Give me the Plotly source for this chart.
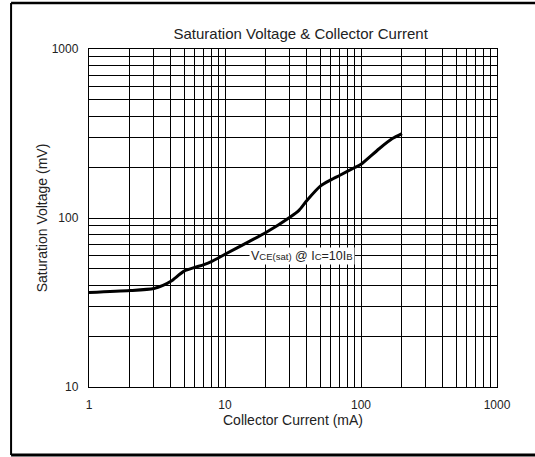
import plotly.graph_objects as go

# Data
current_ma = [1, 2, 3, 3.5, 4, 5, 6, 7, 8, 10, 15, 20, 30, 35, 40, 50, 60, 70, 90, 100, 136, 170, 200]
vce_sat_mv = [36.2, 37.2, 38.3, 39.9, 42.2, 48.5, 51.0, 53.0, 55.4, 61.0, 72.5, 82.0, 101, 111, 127, 154, 168, 179, 199, 208, 257, 295, 316]

x_decades = [1, 10, 100, 1000]
y_decades = [10, 100, 1000]
x_tick_labels = ["1", "10", "100", "1000"]
y_tick_labels = ["10", "100", "1000"]

def grid_vals(decades):
    vals = []
    for d in decades[:-1]:
        for m in range(1, 10):
            vals.append(d * m)
    vals.append(decades[-1])
    return vals

xv = grid_vals(x_decades)
yv = grid_vals(y_decades)
xt = [x_tick_labels[x_decades.index(v)] if v in x_decades else "" for v in xv]
yt = [y_tick_labels[y_decades.index(v)] if v in y_decades else "" for v in yv]

fig = go.Figure()
fig.add_trace(go.Scatter(
    x=current_ma, y=vce_sat_mv, mode="lines",
    line=dict(color="black", width=3, shape="spline", smoothing=0.7),
    showlegend=False, hoverinfo="skip",
))

font = "Liberation Sans, Arial, sans-serif"
axis_common = dict(
    type="log", showgrid=True, gridcolor="black", gridwidth=1,
    showline=True, linecolor="black", linewidth=1.2, mirror=True,
    ticks="", zeroline=False,
    tickfont=dict(family=font, size=12, color="#222"),
)

fig.update_layout(
    width=535, height=457,
    margin=dict(l=89, r=38, t=49, b=70),
    paper_bgcolor="white", plot_bgcolor="white",
    title=dict(text="Saturation Voltage & Collector Current",
               x=0.562, xanchor="center", y=1 - 34 / 457, yanchor="middle",
               font=dict(family=font, size=15, color="#222")),
    xaxis=dict(axis_common, range=[0, 3], tickvals=xv, ticktext=xt,
               ticklabelstandoff=6,
               title=dict(text="Collector Current (mA)", standoff=3,
                          font=dict(family=font, size=14, color="#222"))),
    yaxis=dict(axis_common, range=[1, 3], tickvals=yv, ticktext=yt,
               ticklabelstandoff=7,
               title=dict(text="Saturation Voltage (mV)", standoff=0,
                          font=dict(family=font, size=14, color="#222"))),
)

fig.add_annotation(
    x=1.563, y=1.778, xref="x", yref="y",
    text="V<span style='font-size:9.5px'>CE(sat)</span> @ I<span style='font-size:9.5px'>C</span>=10I<span style='font-size:9.5px'>B</span>",
    showarrow=False, bgcolor="white", borderpad=1,
    font=dict(family=font, size=12.5, color="#222"),
)

# Outer frame (left, top, bottom)
fig.add_shape(type="line", xref="paper", yref="paper", x0=-0.191, x1=1.2, y0=1.136, y1=1.136,
              line=dict(color="black", width=2.5))
fig.add_shape(type="line", xref="paper", yref="paper", x0=-0.191, x1=1.2, y0=-0.201, y1=-0.201,
              line=dict(color="black", width=3))
fig.add_shape(type="line", xref="paper", yref="paper", x0=-0.191, x1=-0.191, y0=-0.201, y1=1.136,
              line=dict(color="black", width=2))

fig.write_html(
    "out.html",
    config={"displayModeBar": False, "staticPlot": True},
    post_script="document.body.style.margin='0';",
)
